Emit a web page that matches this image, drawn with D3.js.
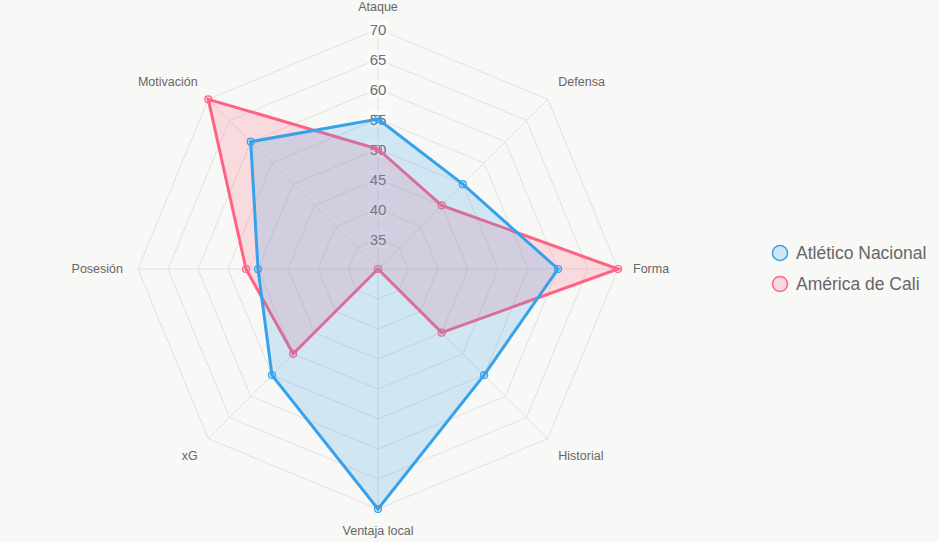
<!DOCTYPE html>
<html lang="es">
<head>
    <meta charset="UTF-8">
    <title>Radar</title>
    <script src="https://d3js.org/d3.v7.min.js"></script>
    <style>
        body { margin: 0; background: #f8f8f6; }
        svg { display: block; font-family: "Liberation Sans", Arial, sans-serif; }
    </style>
</head>
<body>
    <script>
        var categories = ["Ataque", "Defensa", "Forma", "Historial", "Ventaja local", "xG", "Posesión", "Motivación"];
        var atletico = [55, 50, 60, 55, 70, 55, 50, 60];
        var america = [50, 45, 70, 45, 30, 50, 52, 70];
        var tickValues = [35, 40, 45, 50, 55, 60, 65, 70];
        var seriesNames = ["Atlético Nacional", "América de Cali"];

        var width = 939, height = 542;
        var cx = 378, cy = 269;
        var svg = d3.select("body").append("svg")
            .attr("width", width)
            .attr("height", height);

        var r = d3.scaleLinear().domain([30, 70]).range([0, 240]);
        var angle = d3.scaleLinear().domain([0, categories.length]).range([0, 2 * Math.PI]);

        function pos(i, rad) {
            var a = angle(i);
            return [cx + rad * Math.sin(a), cy - rad * Math.cos(a)];
        }

        var grid = svg.append("g");
        // rings
        tickValues.forEach(function (t) {
            var pts = categories.map(function (c, i) { return pos(i, r(t)); });
            grid.append("polygon")
                .attr("points", pts.map(function (p) { return p.join(","); }).join(" "))
                .attr("fill", "none")
                .attr("stroke", "#e1e1e0")
                .attr("stroke-width", 1);
        });
        // spokes
        categories.forEach(function (c, i) {
            var p = pos(i, r(70));
            grid.append("line")
                .attr("x1", cx).attr("y1", cy)
                .attr("x2", p[0]).attr("y2", p[1])
                .attr("stroke", "#e1e1e0");
        });

        // tick labels with backdrop
        var ticks = svg.append("g");
        tickValues.forEach(function (t) {
            var y = cy - r(t);
            var txt = ticks.append("text")
                .attr("x", cx).attr("y", y)
                .attr("text-anchor", "middle")
                .attr("dominant-baseline", "central")
                .attr("font-size", 15)
                .attr("fill", "#6e6e6e")
                .text(t);
            var w = txt.node().getComputedTextLength();
            ticks.insert("rect", "text")
                .attr("x", cx - w / 2 - 2).attr("y", y - 9)
                .attr("width", w + 4).attr("height", 18)
                .attr("fill", "rgba(255,255,255,0.6)");
        });

        // point labels
        categories.forEach(function (c, i) {
            var p = pos(i, 255);
            var a = angle(i);
            var s = Math.sin(a), co = Math.cos(a);
            var anchor = Math.abs(s) < 0.01 ? "middle" : (s > 0 ? "start" : "end");
            var base = Math.abs(co) < 0.01 ? "central" : (co > 0 ? "text-after-edge" : "text-before-edge");
            svg.append("text")
                .attr("x", p[0]).attr("y", p[1])
                .attr("text-anchor", anchor)
                .attr("dominant-baseline", base)
                .attr("font-size", 12.5)
                .attr("fill", "#666")
                .text(c);
        });

        var series = [
            { name: seriesNames[1], values: america, line: "#ff6384", fill: "rgba(255,99,132,0.2)" },
            { name: seriesNames[0], values: atletico, line: "#36a2eb", fill: "rgba(54,162,235,0.2)" }
        ];

        var lineGen = d3.line().curve(d3.curveLinearClosed);

        series.forEach(function (s) {
            var pts = s.values.map(function (v, i) { return pos(i, r(v)); });
            var g = svg.append("g");
            g.append("path")
                .attr("d", lineGen(pts))
                .attr("fill", s.fill)
                .attr("stroke", s.line)
                .attr("stroke-width", 3)
                .attr("stroke-linejoin", "miter");
            g.selectAll("circle")
                .data(pts)
                .enter()
                .append("circle")
                .attr("cx", function (d) { return d[0]; })
                .attr("cy", function (d) { return d[1]; })
                .attr("r", 3.5)
                .attr("fill", s.fill)
                .attr("stroke", s.line)
                .attr("stroke-width", 1.2);
        });

        // legend
        var legend = [
            { name: seriesNames[0], line: "#36a2eb", fill: "rgba(54,162,235,0.2)" },
            { name: seriesNames[1], line: "#ff6384", fill: "rgba(255,99,132,0.2)" }
        ];
        var lg = svg.append("g");
        legend.forEach(function (d, i) {
            var y = 253 + i * 31;
            lg.append("circle")
                .attr("cx", 780).attr("cy", y).attr("r", 7.5)
                .attr("fill", d.fill)
                .attr("stroke", d.line)
                .attr("stroke-width", 1.5);
            lg.append("text")
                .attr("x", 796).attr("y", y)
                .attr("dominant-baseline", "central")
                .attr("font-size", 17.5)
                .attr("fill", "#666")
                .text(d.name);
        });
    </script>
</body>
</html>
